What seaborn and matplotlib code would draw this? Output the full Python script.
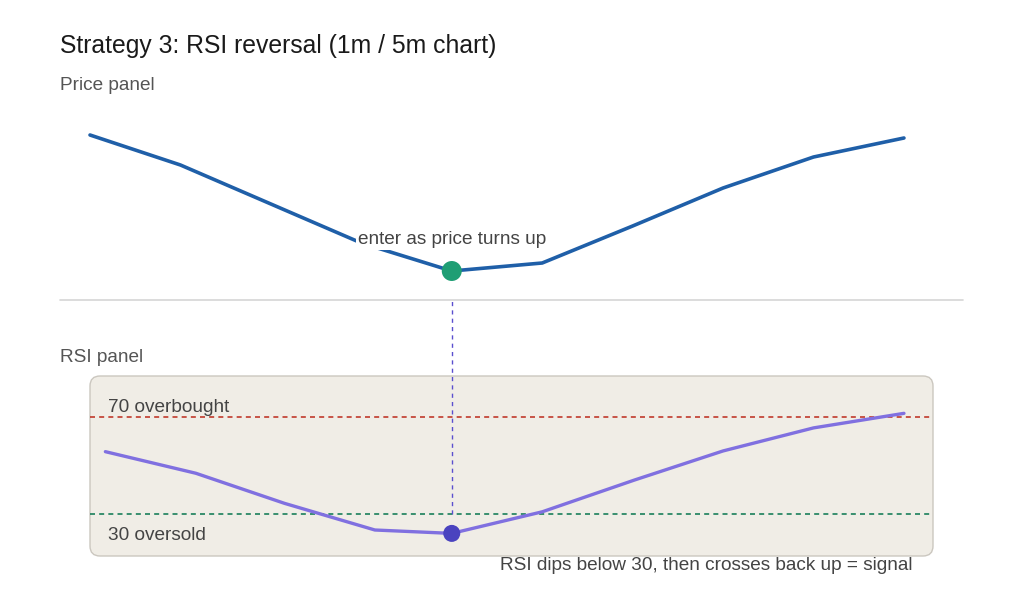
import numpy as np
import pandas as pd
import seaborn as sns
import matplotlib.pyplot as plt
from matplotlib.patches import FancyBboxPatch

# data
bars = list(range(10))
price = [108.0, 105.0, 101.1, 97.2, 94.4, 95.2, 98.9, 102.7, 105.8, 107.7]
rsi_bars = [0.17, 1.17, 2.15, 3.15, 4, 5, 6.02, 7, 8, 9]
rsi = [55.7, 46.8, 34.4, 23.4, 22.0, 30.9, 44.0, 56.0, 65.5, 71.5]
signal_idx = 4
overbought = 70
oversold = 30

sns.set_theme(style="white")
plt.rcParams['font.family'] = ['Liberation Sans', 'DejaVu Sans']

W, H = 1024, 602
fig = plt.figure(figsize=(W / 100, H / 100), dpi=100)

# pixel mapping for x: bar 0 at 90px, ~90.44px per bar
x0_px, step_px = 90.0, 90.44


def xlim_for(a, b):
    return ((a - x0_px) / step_px, (b - x0_px) / step_px)


def rect(left, top, right, bottom):
    return [left / W, 1 - bottom / H, (right - left) / W, (bottom - top) / H]


# overlay in pixel coords for decoration
over = fig.add_axes([0, 0, 1, 1])
over.set_xlim(0, W)
over.set_ylim(H, 0)
over.axis('off')

lbl = 13.7
over.text(60, 46, "Strategy 3: RSI reversal (1m / 5m chart)", fontsize=17.8,
          color="#1a1a1a", va='center', ha='left')
over.text(60, 86, "Price panel", fontsize=lbl, color="#555555", va='center')
over.text(60, 357, "RSI panel", fontsize=lbl, color="#555555", va='center')
over.plot([60, 963], [300, 300], color="#d6d6d6", lw=1.2)
box = FancyBboxPatch((90, 376), 843, 180, boxstyle="round,pad=0,rounding_size=10",
                     facecolor="#f0ede6", edgecolor="#cbc7bf", lw=1)
over.add_patch(box)

# price panel
axp = fig.add_axes(rect(60, 100, 963, 300))
axp.patch.set_alpha(0)
df_p = pd.DataFrame({"bar": bars, "price": price})
sns.lineplot(data=df_p, x="bar", y="price", ax=axp, color="#1f5fa8", lw=2.6)
sns.scatterplot(x=[bars[signal_idx]], y=[price[signal_idx]], ax=axp, s=207,
                color="#1f9e74", edgecolor="none", zorder=5)
axp.text(bars[signal_idx], 97.6, "enter as price turns up", ha='center', va='center',
         fontsize=lbl, color="#444444",
         bbox=dict(facecolor='white', edgecolor='none', pad=1.5))
axp.set_xlim(*xlim_for(60, 963))
axp.set_ylim(91.5, 111.5)
axp.axis('off')

# RSI panel
axr = fig.add_axes(rect(90, 376, 933, 556))
axr.patch.set_alpha(0)
df_r = pd.DataFrame({"bar": rsi_bars, "rsi": rsi})
axr.axhline(overbought, color="#c0392b", lw=1.2, ls=(0, (3, 2.5)))
axr.axhline(oversold, color="#1a7f5a", lw=1.2, ls=(0, (3, 2.5)))
axr.plot([rsi_bars[signal_idx]] * 2, [oversold, 118.2], color="#5b4fcf", lw=1,
         ls=(0, (3, 3)), clip_on=False)
sns.lineplot(data=df_r, x="bar", y="rsi", ax=axr, color="#8070e0", lw=2.4,
             sort=False)
sns.scatterplot(x=[rsi_bars[signal_idx]], y=[rsi[signal_idx]], ax=axr, s=150,
                color="#4a43bf", edgecolor="none", zorder=5)
axr.set_xlim(*xlim_for(90, 933))
axr.set_ylim(12.68, 86.9)
axr.axis('off')

over.text(108, 407, "70 overbought", fontsize=lbl, color="#444444", va='center')
over.text(108, 535, "30 oversold", fontsize=lbl, color="#444444", va='center')
over.text(912, 565, "RSI dips below 30, then crosses back up = signal", fontsize=lbl,
          color="#444444", va='center', ha='right')

plt.savefig("out.png", dpi=100)
